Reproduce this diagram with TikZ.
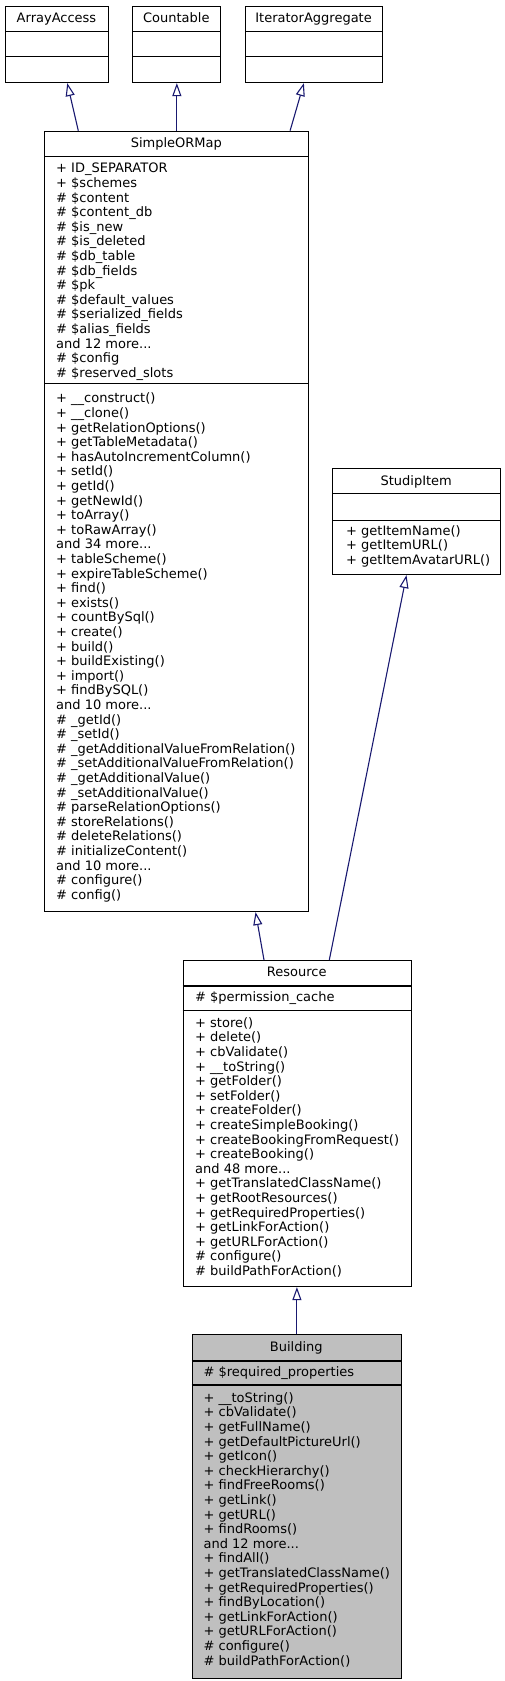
\documentclass[tikz,border=0pt]{standalone}
\usepackage{fontspec}
\setmainfont{DejaVu Sans}
\usetikzlibrary{arrows.meta}
\definecolor{edgeblue}{HTML}{191970}
\definecolor{leafgray}{HTML}{BFBFBF}
\newcommand\moreitems[1]{and #1 more...}
\tikzset{
	classbox/.style={draw=black, line width=1.1pt, anchor=north west, inner sep=0pt},
	inherit/.style={draw=edgeblue, line width=1.1pt, -{Triangle[open,length=13pt,width=9pt]}},
	clsname/.style={anchor=base, inner sep=0pt, font=\fontsize{13}{14.6}\selectfont},
	member/.style={anchor=base west, inner sep=0pt, font=\fontsize{13}{14.6}\selectfont},
	sep/.style={draw=black, line width=1.1pt},
}
\begin{document}
\begin{tikzpicture}[x=1pt,y=-1pt]
	\useasboundingbox (0,0) rectangle (505,1681);
	% interfaces
	\node[classbox, minimum width=103, minimum height=76.3] (aa) at (5,5.7) {};
	\node[classbox, minimum width=88, minimum height=76.3] (cnt) at (132.3,5.7) {};
	\node[classbox, minimum width=137.3, minimum height=76.3] (ita) at (245,5.7) {};
	\foreach \b in {aa,cnt,ita} {
		\draw[sep] ([yshift=-26pt]\b.north west) -- ([yshift=-26pt]\b.north east);
		\draw[sep] ([yshift=-51pt]\b.north west) -- ([yshift=-51pt]\b.north east);}
	\node[clsname] (aa-n) at (56.5,22) {ArrayAccess};
	\node[clsname] (cnt-n) at (176.3,22) {Countable};
	\node[clsname] (ita-n) at (313.6,22) {IteratorAggregate};
	% SimpleORMap
	\node[classbox, minimum width=264, minimum height=780.3] (som) at (44.3,130.7) {};
	\draw[sep] ([yshift=-26pt]som.north west) -- ([yshift=-26pt]som.north east);
	\draw[sep] ([yshift=-252.6pt]som.north west) -- ([yshift=-252.6pt]som.north east);
	\node[clsname] (som-n) at (176.3,147.6) {SimpleORMap};
	\foreach \m [count=\i from 0] in {{+ ID\_SEPARATOR},{+ \$schemes},{\# \$content},
		{\# \$content\_db},{\# \$is\_new},{\# \$is\_deleted},{\# \$db\_table},{\# \$db\_fields},
		{\# \$pk},{\# \$default\_values},{\# \$serialized\_fields},{\# \$alias\_fields},
		{\moreitems{12}},{\# \$config},{\# \$reserved\_slots}}
		\node[member] (som-a\i) at (56,172.9+14.6*\i) {\m};
	\foreach \m [count=\i from 0] in {{+ \_\_construct()},{+ \_\_clone()},{+ getRelationOptions()},
		{+ getTableMetadata()},{+ hasAutoIncrementColumn()},{+ setId()},{+ getId()},{+ getNewId()},
		{+ toArray()},{+ toRawArray()},{\moreitems{34}},{+ tableScheme()},{+ expireTableScheme()},
		{+ find()},{+ exists()},{+ countBySql()},{+ create()},{+ build()},{+ buildExisting()},
		{+ import()},{+ findBySQL()},{\moreitems{10}},{\# \_getId()},{\# \_setId()},
		{\# \_getAdditionalValueFromRelation()},{\# \_setAdditionalValueFromRelation()},
		{\# \_getAdditionalValue()},{\# \_setAdditionalValue()},{\# parseRelationOptions()},
		{\# storeRelations()},{\# deleteRelations()},{\# initializeContent()},{\moreitems{10}},
		{\# configure()},{\# config()}}
		\node[member] (som-m\i) at (56,402.9+14.6*\i) {\m};
	% StudipItem
	\node[classbox, minimum width=167.7, minimum height=105.7] (sti) at (332.3,468.3) {};
	\draw[sep] ([yshift=-25pt]sti.north west) -- ([yshift=-25pt]sti.north east);
	\draw[sep] ([yshift=-52.4pt]sti.north west) -- ([yshift=-52.4pt]sti.north east);
	\node[clsname] (sti-n) at (416.2,485.3) {StudipItem};
	\foreach \m [count=\i from 0] in {{+ getItemName()},{+ getItemURL()},{+ getItemAvatarURL()}}
		\node[member] (sti-m\i) at (346,535.3+14.6*\i) {\m};
	% Resource
	\node[classbox, minimum width=228.3, minimum height=326] (res) at (182.7,960) {};
	\draw[sep] ([yshift=-26pt]res.north west) -- ([yshift=-26pt]res.north east);
	\draw[sep] ([yshift=-50.7pt]res.north west) -- ([yshift=-50.7pt]res.north east);
	\node[clsname] (res-n) at (296.8,976.9) {Resource};
	\node[member] (res-a0) at (195,1001.9) {\# \$permission\_cache};
	\foreach \m [count=\i from 0] in {{+ store()},{+ delete()},{+ cbValidate()},{+ \_\_toString()},
		{+ getFolder()},{+ setFolder()},{+ createFolder()},{+ createSimpleBooking()},
		{+ createBookingFromRequest()},{+ createBooking()},{\moreitems{48}},
		{+ getTranslatedClassName()},{+ getRootResources()},{+ getRequiredProperties()},
		{+ getLinkForAction()},{+ getURLForAction()},{\# configure()},{\# buildPathForAction()}}
		\node[member] (res-m\i) at (195,1027.3+14.6*\i) {\m};
	% Building
	\node[classbox, fill=leafgray, minimum width=209.3, minimum height=343.7] (bld) at (191.7,1334.3) {};
	\draw[sep] ([yshift=-26.7pt]bld.north west) -- ([yshift=-26.7pt]bld.north east);
	\draw[sep] ([yshift=-50.7pt]bld.north west) -- ([yshift=-50.7pt]bld.north east);
	\node[clsname] (bld-n) at (296.3,1351.3) {Building};
	\node[member] (bld-a0) at (203.4,1376.3) {\# \$required\_properties};
	\foreach \m [count=\i from 0] in {{+ \_\_toString()},{+ cbValidate()},{+ getFullName()},
		{+ getDefaultPictureUrl()},{+ getIcon()},{+ checkHierarchy()},{+ findFreeRooms()},
		{+ getLink()},{+ getURL()},{+ findRooms()},{\moreitems{12}},{+ findAll()},
		{+ getTranslatedClassName()},{+ getRequiredProperties()},{+ findByLocation()},
		{+ getLinkForAction()},{+ getURLForAction()},{\# configure()},{\# buildPathForAction()}}
		\node[member] (bld-m\i) at (203.4,1402.3+14.6*\i) {\m};
	% inheritance
	\draw[inherit] ([xshift=34pt]som.north west) -- ([xshift=10.2pt]aa.south);
	\draw[inherit] (som.north) -- (som.north |- cnt.south);
	\draw[inherit] ([xshift=-19.3pt]som.north east) -- ([xshift=-10.3pt]ita.south);
	\draw[inherit] ([xshift=81.3pt]res.north west) -- ([xshift=78.7pt]som.south);
	\draw[inherit] ([xshift=146.6pt]res.north west) -- ([xshift=-10.2pt]sti.south);
	\draw[inherit] (bld.north) -- (bld.north |- res.south);
\end{tikzpicture}
\end{document}
